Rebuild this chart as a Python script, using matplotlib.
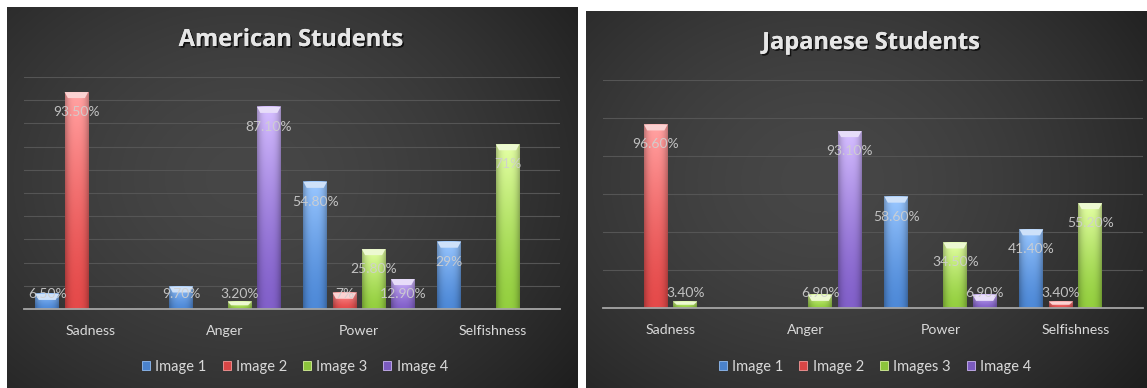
#!/usr/bin/env python3

"""
Bar charts of how American and Japanese students read four images
(sadness, anger, power, selfishness), drawn in a dark glossy style.
"""

import numpy as np
import matplotlib
matplotlib.use("Agg")
import matplotlib.pyplot as plt
import matplotlib.patheffects as pe
from matplotlib.patches import Polygon, Patch
from matplotlib.colors import to_rgb


W, H = 1147, 388
DPI = 100

CATEGORIES = ["Sadness", "Anger", "Power", "Selfishness"]
AMERICAN_SERIES = ["Image 1", "Image 2", "Image 3", "Image 4"]
JAPANESE_SERIES = ["Image 1", "Image 2", "Images 3", "Image 4"]

# percent of students per category, one list per image (0 = no bar)
AMERICAN_IMG1 = [6.5, 9.7, 54.8, 29.0]
AMERICAN_IMG2 = [93.5, 0, 7.0, 0]
AMERICAN_IMG3 = [0, 3.2, 25.8, 71.0]
AMERICAN_IMG4 = [0, 87.1, 12.9, 0]

JAPANESE_IMG1 = [0, 0, 58.6, 41.4]
JAPANESE_IMG2 = [96.6, 0, 0, 3.4]
JAPANESE_IMG3 = [3.4, 6.9, 34.5, 55.2]
JAPANESE_IMG4 = [0, 93.1, 6.9, 0]

# (light top, dark bottom) per series
BAR_COLORS = [
    ("#92bdf2", "#4a82cc"),
    ("#f59a9a", "#d84646"),
    ("#d8f29c", "#8cc43c"),
    ("#cab4f2", "#7b5bbf"),
]

TEXT = "#d9d9d9"
FONT = "Lato"
TITLE_FONT = "Open Sans"


def px(x0, y0, w, h):
    """Pixel box (top-left origin) to figure fraction rect."""
    return [x0 / W, 1 - (y0 + h) / H, w / W, h / H]


def fmt(v):
    if float(v).is_integer():
        return "%d%%" % v
    return "%.2f%%" % v


def background(fig, rect):
    ax = fig.add_axes(rect, zorder=0)
    ax.set_axis_off()
    ny, nx = 200, 300
    yy, xx = np.mgrid[0:1:ny * 1j, 0:1:nx * 1j]
    r = np.sqrt(((xx - 0.42) / 0.75) ** 2 + ((yy - 0.45) / 0.9) ** 2)
    r = np.clip(r, 0, 1)
    inner = np.array(to_rgb("#474747"))
    outer = np.array(to_rgb("#1d1d1d"))
    img = inner + (outer - inner) * (r ** 1.6)[..., None]
    ax.imshow(img, extent=(0, 1, 0, 1), aspect="auto", interpolation="bilinear")
    ax.set_xlim(0, 1)
    ax.set_ylim(0, 1)


def glossy_bar(ax, x, h, w, light, dark, ppu):
    light = np.array(to_rgb(light))
    dark = np.array(to_rgb(dark))
    ax.bar(x, h, w, color=dark, linewidth=0, zorder=2)
    ny, nx = 64, 32
    v = np.linspace(1, 0, ny)[:, None, None] ** 1.4
    t = np.linspace(-1, 1, nx)[None, :, None]
    shade = 1.0 - 0.22 * np.abs(t) ** 3 + 0.06 * (1 - t ** 2)
    img = np.clip((dark + (light - dark) * v) * shade, 0, 1)
    ax.imshow(img, extent=(x - w / 2, x + w / 2, 0, h), aspect="auto",
              interpolation="bilinear", zorder=2.1)
    # bevel cap on the top of the bar
    cap = min(6 / ppu, h * 0.5)
    inset = w * 0.14
    pale = light + (1 - light) * 0.55
    ax.add_patch(Polygon([(x - w / 2, h), (x + w / 2, h),
                          (x + w / 2 - inset, h - cap), (x - w / 2 + inset, h - cap)],
                         closed=True, color=pale, linewidth=0, zorder=2.2))


def panel(fig, bg_rect, ax_rect, title, title_xy, series, values, ymax, ystep,
          legend_xy):
    background(fig, px(*bg_rect))
    ax = fig.add_axes(px(*ax_rect), zorder=1)
    ax.set_facecolor("none")
    ax_h_px = ax_rect[3]
    ppu = ax_h_px / ymax

    step, width = 0.218, 0.176
    offsets = (np.arange(len(series)) - (len(series) - 1) / 2) * step
    x = np.arange(len(CATEGORIES))
    for i, vals in enumerate(values):
        light, dark = BAR_COLORS[i]
        for xc, v in zip(x + offsets[i], vals):
            if v <= 0:
                continue
            glossy_bar(ax, xc, v, width, light, dark, ppu)
            ly = max(v - 20 / ppu, 15 / ppu)
            ax.text(xc, ly, fmt(v), ha="center", va="center", color="#d0d0d0",
                    alpha=0.9, fontsize=10, family=FONT, zorder=3)

    ax.set_xlim(-0.5, len(CATEGORIES) - 0.5)
    ax.set_ylim(0, ymax)
    ax.set_yticks(np.arange(0, ymax + 0.1, ystep))
    ax.yaxis.grid(True, color="#555555", linewidth=0.8)
    ax.set_axisbelow(True)
    ax.tick_params(left=False, bottom=False, labelleft=False, pad=8)
    ax.set_xticks(x)
    ax.set_xticklabels(CATEGORIES, color=TEXT, fontsize=10.2, family=FONT)
    for s in ["left", "right", "top"]:
        ax.spines[s].set_visible(False)
    ax.spines["bottom"].set_color("#a6a6a6")
    ax.spines["bottom"].set_linewidth(1.3)
    ax.spines["bottom"].set_zorder(4)

    fig.text(title_xy[0] / W, 1 - title_xy[1] / H, title, ha="center", va="center",
             color="#e6e6e6", fontsize=17, fontweight="bold", family=TITLE_FONT,
             path_effects=[pe.withSimplePatchShadow(offset=(1.2, -1.2),
                                                    shadow_rgbFace="black", alpha=0.7),
                           pe.Normal()])

    handles = [Patch(facecolor=BAR_COLORS[i][1], edgecolor=BAR_COLORS[i][0],
                     linewidth=0.6, label=s) for i, s in enumerate(series)]
    ax.legend(handles=handles, loc="center", ncol=4, frameon=False,
              bbox_to_anchor=(legend_xy[0] / W, 1 - legend_xy[1] / H),
              bbox_transform=fig.transFigure, handlelength=0.55, handleheight=0.55,
              handletextpad=0.35, columnspacing=1.1,
              prop={"family": FONT, "size": 10.5}, labelcolor=TEXT)
    return ax


fig = plt.figure(figsize=(W / DPI, H / DPI), dpi=DPI, facecolor="white")

panel(fig, (7, 7, 571, 381), (24, 77, 536, 232), "American Students", (291, 40),
      AMERICAN_SERIES, [AMERICAN_IMG1, AMERICAN_IMG2, AMERICAN_IMG3, AMERICAN_IMG4],
      100, 10, (295, 367))
panel(fig, (586, 11, 561, 377), (603, 80, 540, 228), "Japanese Students", (871, 43),
      JAPANESE_SERIES, [JAPANESE_IMG1, JAPANESE_IMG2, JAPANESE_IMG3, JAPANESE_IMG4],
      120, 20, (875, 367))

fig.savefig("out.png", dpi=DPI, facecolor="white")
